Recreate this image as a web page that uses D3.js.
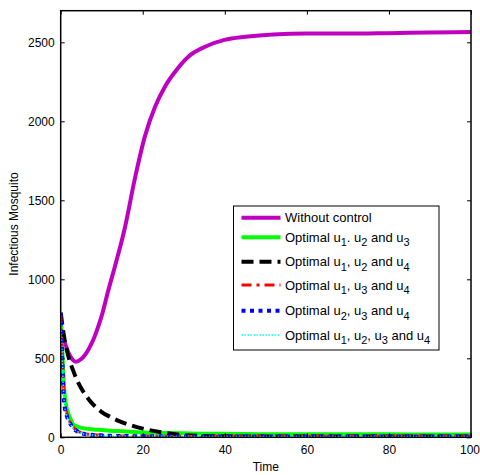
<!DOCTYPE html>
<html>
<head>
<meta charset="utf-8">
<script src="https://cdn.jsdelivr.net/npm/d3@7"></script>
<style>
  body { margin: 0; background: #fff; }
  text { font-family: "Liberation Sans", Arial, sans-serif; fill: #000; }
</style>
</head>
<body>
<div id="chart"></div>
<script>
// ---- data ----
var tNoControl = [0, 1, 2, 3, 3.65, 5, 6.7, 8, 9.2, 10, 11.6, 13.2, 15.7, 18.1, 20.5, 23, 25.4, 27.9, 31.1, 35.2, 39.9, 45, 51.8, 60, 70, 80, 90, 100];
var noControl = [690, 600, 530, 488, 478, 495, 553, 620, 705, 770, 930, 1080, 1333, 1640, 1903, 2092, 2219, 2314, 2409, 2472, 2515, 2535, 2550, 2555, 2555, 2558, 2562, 2565];

var tControl = [0, 0.25, 0.5, 0.75, 1, 1.5, 2, 2.5, 3, 4, 5, 6, 8, 10, 12, 15, 20, 25, 30, 35, 40, 50, 60, 70, 80, 90, 100];
var u123  = [780, 640, 480, 350, 260, 180, 140, 110, 82, 68, 60, 55, 50, 46, 42, 38, 31, 28, 25, 23, 22, 20, 20, 19, 19, 18, 18];
var u124  = [790, 740, 690, 650, 610, 550, 500, 460, 425, 360, 310, 270, 205, 160, 130, 95, 55, 30, 14, 8, 6, 5, 5, 5, 5, 5, 5];
var u134  = [780, 620, 440, 300, 210, 150, 110, 85, 65, 42, 30, 22, 17, 13, 11, 9, 8, 7, 6, 6, 6, 6, 6, 6, 6, 6, 6];
var u234  = [785, 600, 400, 250, 185, 135, 100, 80, 60, 38, 26, 20, 15, 12, 10, 8, 7, 6, 5, 5, 5, 5, 5, 5, 5, 5, 5];
var u1234 = [790, 590, 410, 260, 190, 135, 98, 75, 58, 37, 25, 19, 14, 11, 9, 8, 7, 6, 5, 5, 5, 5, 5, 5, 5, 5, 5];

var xTicks = [0, 20, 40, 60, 80, 100];
var yTicks = [0, 500, 1000, 1500, 2000, 2500];

// legend labels: pieces of [text, subscript]
var legendLabels = [
    [["Without control", ""]],
    [["Optimal u", "1"], [". u", "2"], [" and u", "3"]],
    [["Optimal u", "1"], [", u", "2"], [" and u", "4"]],
    [["Optimal u", "1"], [", u", "3"], [" and u", "4"]],
    [["Optimal u", "2"], [", u", "3"], [" and u", "4"]],
    [["Optimal u", "1"], [", u", "2"], [", u", "3"], [" and u", "4"]]
];

var series = [
    { t: tNoControl, v: noControl, color: "#c000c0", width: 4, dash: null },
    { t: tControl, v: u123, color: "#00ff00", width: 4, dash: null },
    { t: tControl, v: u124, color: "#000000", width: 4, dash: "12,6" },
    { t: tControl, v: u134, color: "#ff0000", width: 3, dash: "10,5,3,5" },
    { t: tControl, v: u234, color: "#0000ff", width: 4, dash: "4,4.5" },
    { t: tControl, v: u1234, color: "#00ffff", width: 1.5, dash: "1.5,1.5" }
];

// ---- layout ----
var width = 480, height = 475;
var margin = { left: 60.7, right: 9, top: 10.7, bottom: 37.7 };
var plotW = width - margin.left - margin.right;
var plotH = height - margin.top - margin.bottom;

var svg = d3.select("#chart").append("svg")
    .attr("width", width)
    .attr("height", height);

var g = svg.append("g")
    .attr("transform", "translate(" + margin.left + "," + margin.top + ")");

var x = d3.scaleLinear().domain([0, 100]).range([0, plotW]);
var y = d3.scaleLinear().domain([0, 2700]).range([plotH, 0]);

var line = d3.line()
    .x(function(d) { return x(d[0]); })
    .y(function(d) { return y(d[1]); })
    .curve(d3.curveMonotoneX);

g.append("clipPath").attr("id", "clip")
    .append("rect").attr("width", plotW).attr("height", plotH);

var lines = g.append("g").attr("clip-path", "url(#clip)");

series.forEach(function(s) {
    var pts = s.t.map(function(t, i) { return [t, s.v[i]]; });
    lines.append("path")
        .datum(pts)
        .attr("d", line)
        .attr("fill", "none")
        .attr("stroke", s.color)
        .attr("stroke-width", s.width)
        .attr("stroke-dasharray", s.dash);
});

// axes (MATLAB style: inward ticks on all sides)
var tickLen = 4;
var fmt = d3.format("d");
var xAxisG = g.append("g")
    .attr("transform", "translate(0," + plotH + ")")
    .call(d3.axisBottom(x).tickValues(xTicks).tickFormat(fmt).tickSizeInner(-tickLen).tickSizeOuter(0).tickPadding(8))
    .call(function(a) { a.select(".domain").remove(); });
// keep the last label inside the window
xAxisG.selectAll(".tick text").filter(function(d) { return d === 100; }).attr("dx", -1.5);

g.append("g")
    .call(d3.axisTop(x).tickValues(xTicks).tickSizeInner(-tickLen).tickSizeOuter(0).tickFormat(""))
    .call(function(a) { a.select(".domain").remove(); });
g.append("g")
    .call(d3.axisLeft(y).tickValues(yTicks).tickFormat(fmt).tickSizeInner(-tickLen).tickSizeOuter(0).tickPadding(6))
    .call(function(a) { a.select(".domain").remove(); });
g.append("g")
    .attr("transform", "translate(" + plotW + ",0)")
    .call(d3.axisRight(y).tickValues(yTicks).tickSizeInner(-tickLen).tickSizeOuter(0).tickFormat(""))
    .call(function(a) { a.select(".domain").remove(); });

g.selectAll(".tick text")
    .style("font-size", "12px")
    .style("font-family", "Liberation Sans, Arial, sans-serif")
    .attr("fill", "#000");
g.selectAll(".tick line").attr("stroke", "#000");

g.append("rect")
    .attr("width", plotW)
    .attr("height", plotH)
    .attr("fill", "none")
    .attr("stroke", "#000")
    .attr("stroke-width", 1.5);

// axis labels
svg.append("text")
    .attr("x", margin.left + plotW / 2)
    .attr("y", 471)
    .attr("text-anchor", "middle")
    .style("font-size", "12px")
    .text("Time");

svg.append("text")
    .attr("transform", "translate(18," + (margin.top + plotH / 2) + ") rotate(-90)")
    .attr("text-anchor", "middle")
    .style("font-size", "12px")
    .text("Infectious Mosquito");

// legend
var legend = svg.append("g").attr("transform", "translate(233.5,206)");
legend.append("rect")
    .attr("width", 205.5)
    .attr("height", 144)
    .attr("fill", "#fff")
    .attr("stroke", "#000")
    .attr("stroke-width", 1);

var rowY = [11.7, 31.3, 55.7, 79, 104.7, 129];
series.forEach(function(s, i) {
    legend.append("line")
        .attr("x1", 8).attr("x2", 47)
        .attr("y1", rowY[i]).attr("y2", rowY[i])
        .attr("stroke", s.color)
        .attr("stroke-width", s.width)
        .attr("stroke-dasharray", s.dash);

    var txt = legend.append("text")
        .attr("x", 51.5)
        .attr("y", rowY[i] + 4.5)
        .style("font-size", "13px");
    var shift = 0;
    legendLabels[i].forEach(function(p) {
        txt.append("tspan").attr("dy", -shift).text(p[0]);
        shift = 0;
        if (p[1]) {
            txt.append("tspan")
                .attr("dy", 4.5)
                .style("font-size", "11px")
                .text(p[1]);
            shift = 4.5;
        }
    });
});
</script>
</body>
</html>
